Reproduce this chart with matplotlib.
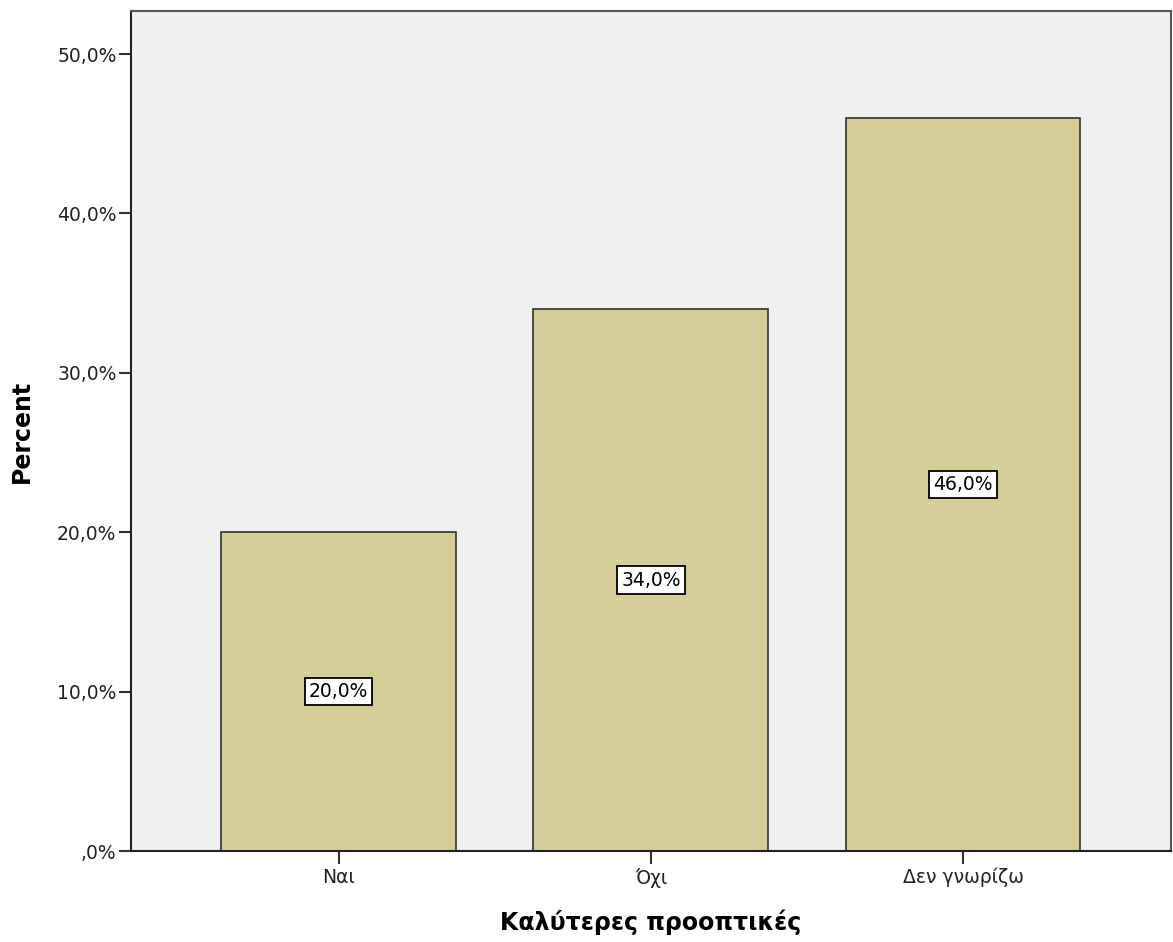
import matplotlib.pyplot as plt

# data
categories = ['Ναι', 'Όχι', 'Δεν γνωρίζω']
percents = [20.0, 34.0, 46.0]
yticks = [0, 10, 20, 30, 40, 50]
ytick_labels = [',0%', '10,0%', '20,0%', '30,0%', '40,0%', '50,0%']

fig = plt.figure(figsize=(11.73, 9.42), dpi=100)
ax = fig.add_axes([0.1117, 0.0966, 0.8863, 0.8917])
ax.set_facecolor('#f0f0f0')

x = range(len(categories))
ax.bar(x, percents, width=0.752, color='#d3ce97', edgecolor='#333333', linewidth=1.2, zorder=2)

# labels in the middle of each bar
for i, p in zip(x, percents):
    ax.text(i, p / 2, f'{p:.1f}%'.replace('.', ','), ha='center', va='center', fontsize=13.5,
            bbox=dict(boxstyle='square,pad=0.22', facecolor='white', edgecolor='black', linewidth=1.3),
            zorder=3)

ax.set_xlim(-0.665, 2.665)
ax.set_ylim(0, 52.7)
ax.set_xticks(list(x))
ax.set_xticklabels(categories, fontsize=13.5, color='#222222')
ax.set_yticks(yticks)
ax.set_yticklabels(ytick_labels, fontsize=13.5, color='#222222')
ax.tick_params(axis='both', length=9, width=1.5, color='#333333')
ax.tick_params(axis='y', pad=1.5)
ax.tick_params(axis='x', pad=3)

for s in ax.spines.values():
    s.set_color('#555555')
    s.set_linewidth(1.5)
ax.spines['bottom'].set_color('#222222')
ax.spines['left'].set_color('#222222')

ax.set_ylabel('Percent', fontsize=17, fontweight='bold', va='center')
ax.yaxis.set_label_coords(-0.105, 0.5)
ax.set_xlabel('Καλύτερες προοπτικές', fontsize=17, fontweight='bold', labelpad=16)

fig.savefig('out.png', dpi=100)
